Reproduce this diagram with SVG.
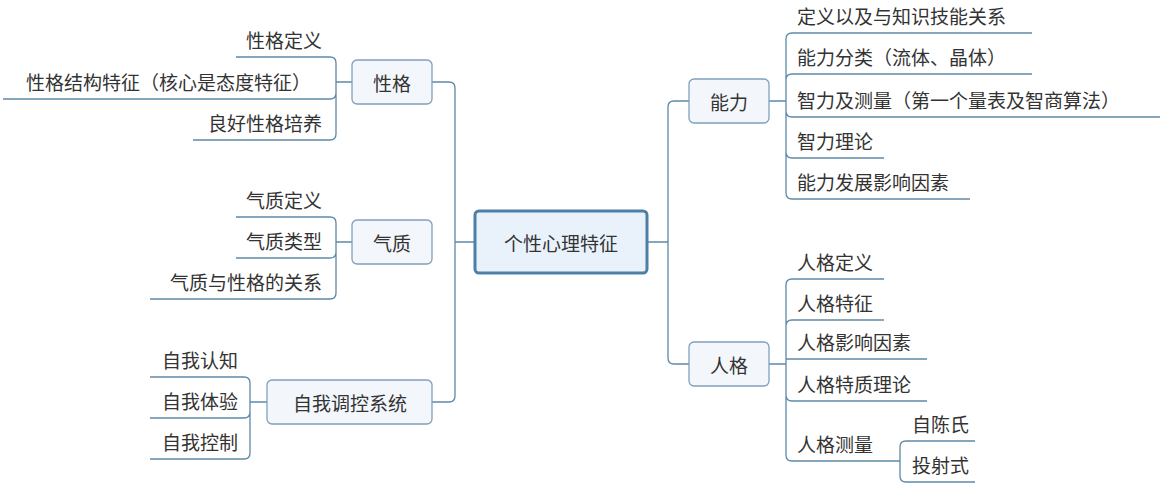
<svg xmlns="http://www.w3.org/2000/svg" width="1163" height="484" viewBox="0 0 1163 484">
<style>
.l{fill:none;stroke:#5d89a8;stroke-width:1.3}
.b{fill:#f3f7fb;stroke:#7fa0bd;stroke-width:1.3}
.c{fill:#e9f2fb;stroke:#4d80a6;stroke-width:3}
text{font-family:"Noto Sans CJK SC","Microsoft YaHei",sans-serif;font-size:19px;fill:#333}
.m{text-anchor:middle;dominant-baseline:central}
.r{text-anchor:end}
</style>
<rect width="1163" height="484" fill="#fff"/>
<g id="connectors">
<path class="l" d="M475,242H455M455,242V88Q455,82 449,82H432M455,242V396Q455,402 449,402H432"/>
<path class="l" d="M647,242H668M668,242V107Q668,101 674,101H689M668,242V358Q668,364 674,364H689"/>
<path class="l" d="M352,82H336M336,82V63Q336,57 330,57H236M336,82V93Q336,99 330,99H3M336,82V134Q336,140 330,140H193"/>
<path class="l" d="M352,242H336M336,242V223Q336,217 330,217H236M336,242V252Q336,258 330,258H236M336,242V293Q336,299 330,299H150"/>
<path class="l" d="M267,402H250M250,402V383Q250,377 244,377H150M250,402V412Q250,418 244,418H150M250,402V453Q250,459 244,459H150"/>
<path class="l" d="M769,101H786M786,101V39Q786,33 792,33H1032M786,101V80Q786,74 792,74H1032M786,101V111Q786,117 792,117H1160M786,101V152Q786,158 792,158H884M786,101V193Q786,199 792,199H970"/>
<path class="l" d="M769,364H786M786,364V285Q786,279 792,279H884M786,364V326Q786,320 792,320H884M786,364V359Q786,359 792,359H927M786,364V395Q786,401 792,401H927M786,364V455Q786,461 792,461H900"/>
<path class="l" d="M900,461V447Q900,441 906,441H975M900,461V476Q900,482 906,482H975"/>
</g>
<g id="root"><rect class="c" x="475" y="211" width="172" height="62" rx="4"/><text class="m" x="561" y="242">个性心理特征</text></g>
<g id="xingge"><rect class="b" x="352" y="60" width="80" height="44" rx="5"/><text class="m" x="392" y="82">性格</text></g>
<g id="qizhi"><rect class="b" x="352" y="220" width="80" height="44" rx="5"/><text class="m" x="392" y="242">气质</text></g>
<g id="ziwo"><rect class="b" x="267" y="380" width="165" height="44" rx="5"/><text class="m" x="350" y="402">自我调控系统</text></g>
<g id="nengli"><rect class="b" x="689" y="79" width="80" height="44" rx="5"/><text class="m" x="729" y="101">能力</text></g>
<g id="renge"><rect class="b" x="689" y="342" width="80" height="44" rx="5"/><text class="m" x="729" y="364">人格</text></g>
<g id="left-leaves">
<text class="r" x="322" y="48">性格定义</text>
<text class="r" x="311" y="90">性格结构特征（核心是态度特征）</text>
<text class="r" x="322" y="131">良好性格培养</text>
<text class="r" x="322" y="208">气质定义</text>
<text class="r" x="322" y="249">气质类型</text>
<text class="r" x="322" y="290">气质与性格的关系</text>
<text class="r" x="238" y="368">自我认知</text>
<text class="r" x="238" y="409">自我体验</text>
<text class="r" x="238" y="450">自我控制</text>
</g>
<g id="right-leaves">
<text x="797" y="24">定义以及与知识技能关系</text>
<text x="797" y="65">能力分类（流体、晶体）</text>
<text x="797" y="108">智力及测量（第一个量表及智商算法）</text>
<text x="797" y="149">智力理论</text>
<text x="797" y="190">能力发展影响因素</text>
<text x="797" y="270">人格定义</text>
<text x="797" y="311">人格特征</text>
<text x="797" y="350">人格影响因素</text>
<text x="797" y="392">人格特质理论</text>
<text x="797" y="452">人格测量</text>
<text x="912" y="432">自陈氏</text>
<text x="912" y="473">投射式</text>
</g>
</svg>
